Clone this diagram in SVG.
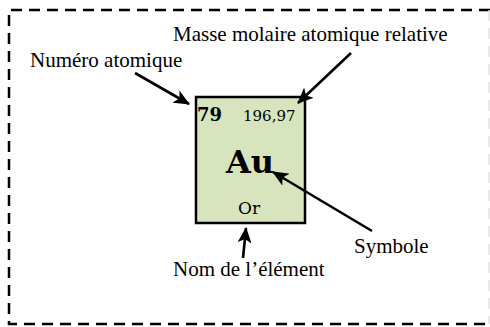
<svg xmlns="http://www.w3.org/2000/svg" width="490" height="327" viewBox="0 0 490 327">
<style>
.lbl{font-family:"Liberation Serif","Times New Roman",serif;font-size:21px;fill:#000}
.box{font-family:"DejaVu Serif",Cambria,serif;fill:#000}
.arr{stroke:#000;stroke-width:2.6;fill:none;marker-end:url(#ah)}
</style>
<defs>
<marker id="ah" markerUnits="userSpaceOnUse" markerWidth="16" markerHeight="14" viewBox="0 0 16 14" refX="15" refY="7" orient="auto">
<path d="M0,0 L16,7 L0,14 L4,7 Z" fill="#000"/>
</marker>
</defs>
<rect width="490" height="327" fill="#fff"/>
<g id="frame">
<path d="M490,10 H9 V324 H490" fill="none" stroke="#000" stroke-width="2.5" stroke-dasharray="11 7"/>
<line x1="489" y1="10" x2="489" y2="324" stroke="#e2e2e2" stroke-width="1.5" stroke-dasharray="11 7"/>
</g>
<g id="element">
<rect x="196" y="97" width="109" height="126" fill="#d7e4bd" stroke="#000" stroke-width="2.5"/>
<text class="box" x="197" y="121" font-size="18" font-weight="bold">79</text>
<text class="box" x="243" y="121" font-size="15">196,97</text>
<text class="box" x="226" y="173" font-size="32" font-weight="bold">Au</text>
<text class="box" x="238" y="214" font-size="17">Or</text>
</g>
<g id="label-masse"><text class="lbl" x="173" y="41">Masse molaire atomique relative</text></g>
<g id="label-numero"><text class="lbl" x="30" y="67">Numéro atomique</text></g>
<g id="label-symbole"><text class="lbl" x="354" y="253">Symbole</text></g>
<g id="label-nom"><text class="lbl" x="173" y="276">Nom de l’élément</text></g>
<g id="connectors">
<line class="arr" x1="135" y1="73" x2="189" y2="104"/>
<line class="arr" x1="351" y1="53" x2="298" y2="103"/>
<line class="arr" x1="372" y1="231" x2="273" y2="172"/>
<line class="arr" x1="243" y1="258" x2="246" y2="228"/>
</g>
</svg>
